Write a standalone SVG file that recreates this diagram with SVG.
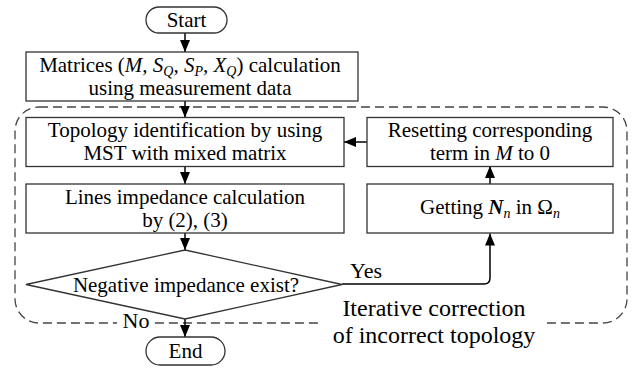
<svg xmlns="http://www.w3.org/2000/svg" width="638" height="370" viewBox="0 0 638 370" font-family="Liberation Serif, DejaVu Serif, serif">
  <style>
    text { font-size: 21px; fill: #000; text-anchor: middle; }
    text.big { font-size: 24px; }
    text.lbl { font-size: 22px; }
    .box { fill: #fff; stroke: #333; stroke-width: 1.3; }
    .line { fill: none; stroke: #000; stroke-width: 1.5; }
    .frame { fill: none; stroke: #444; stroke-width: 1.3; stroke-dasharray: 9 5; }
    .it { font-style: italic; }
    .sub { font-size: 14px; font-style: italic; }
    .mask { fill: #fff; }
  </style>
  <defs>
    <marker id="arrow" viewBox="0 0 12 10" refX="12" refY="5" markerWidth="12" markerHeight="10" markerUnits="userSpaceOnUse" orient="auto">
      <path d="M0,0 L12,5 L0,10 z" fill="#000"/>
    </marker>
  </defs>

  <!-- iterative correction loop frame -->
  <g id="loop-frame">
    <rect class="frame" x="15" y="107" width="612" height="216" rx="24" ry="24"/>
    <rect class="mask" x="322" y="295" width="225" height="53"/>
    <rect class="mask" x="117" y="314" width="37" height="18"/>
    <text class="big" x="434" y="316">Iterative correction</text>
    <text class="big" x="434" y="343">of incorrect topology</text>
  </g>

  <!-- connectors -->
  <g id="connectors">
    <path class="line" d="M185,33 V52" marker-end="url(#arrow)"/>
    <path class="line" d="M185,101 V117.5" marker-end="url(#arrow)"/>
    <path class="line" d="M185,167 V184" marker-end="url(#arrow)"/>
    <path class="line" d="M185,233 V250" marker-end="url(#arrow)"/>
    <path class="line" d="M185,319 V337" marker-end="url(#arrow)"/>
    <path class="line" d="M342,284 H484 Q490,284 490,278 V233.5" marker-end="url(#arrow)"/>
    <path class="line" d="M490,184 V166" marker-end="url(#arrow)"/>
    <path class="line" d="M367,142 H344" marker-end="url(#arrow)"/>
    <text class="lbl" x="366" y="278">Yes</text>
    <text class="lbl" x="136" y="328">No</text>
  </g>

  <g id="start">
    <rect class="box" x="146" y="7" width="81" height="26" rx="13" ry="13"/>
    <text x="186.5" y="27">Start</text>
  </g>

  <g id="matrices">
    <rect class="box" x="26" y="52" width="332" height="49"/>
    <text x="190" y="72">Matrices (<tspan class="it">M, S</tspan><tspan class="sub" baseline-shift="-4">Q</tspan><tspan class="it">, S</tspan><tspan class="sub" baseline-shift="-4">P</tspan><tspan class="it">, X</tspan><tspan class="sub" baseline-shift="-4">Q</tspan>) calculation</text>
    <text x="190" y="95">using measurement data</text>
  </g>

  <g id="topology">
    <rect class="box" x="26" y="117.5" width="318" height="49"/>
    <text x="185" y="137">Topology identification by using</text>
    <text x="185" y="160">MST with mixed matrix</text>
  </g>

  <g id="impedance">
    <rect class="box" x="26" y="184" width="318" height="49"/>
    <text x="185" y="204">Lines impedance calculation</text>
    <text x="185" y="227">by (2), (3)</text>
  </g>

  <g id="reset">
    <rect class="box" x="367" y="117.5" width="246" height="49"/>
    <text x="490" y="137">Resetting corresponding</text>
    <text x="490" y="160">term in <tspan class="it">M</tspan> to 0</text>
  </g>

  <g id="getting">
    <rect class="box" x="367" y="184" width="246" height="49"/>
    <text x="490" y="214">Getting <tspan class="it" font-weight="bold">N</tspan><tspan class="sub" baseline-shift="-4">n</tspan> in Ω<tspan class="sub" baseline-shift="-4">n</tspan></text>
  </g>

  <g id="negative-check">
    <polygon class="box" points="185,250 342,284.5 185,319 26,284.5"/>
    <text x="186" y="292">Negative impedance exist?</text>
  </g>

  <g id="end">
    <rect class="box" x="146" y="337" width="79" height="28" rx="14" ry="14"/>
    <text x="185.5" y="358">End</text>
  </g>
</svg>
